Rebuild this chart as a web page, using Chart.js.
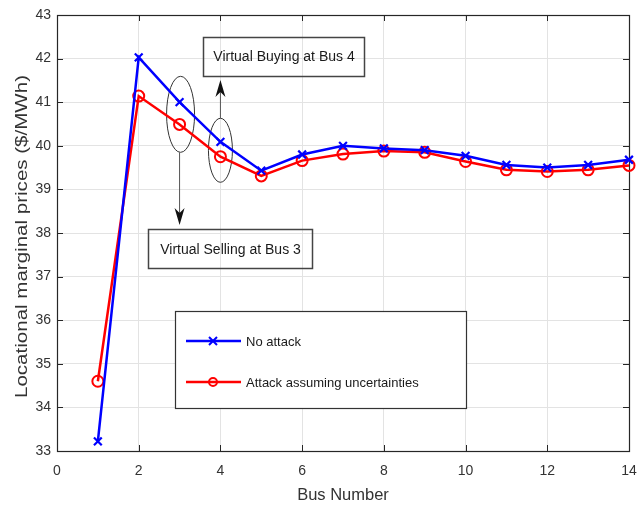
<!DOCTYPE html>
<html>
<head>
<meta charset="utf-8">
<script src="https://cdn.jsdelivr.net/npm/chart.js@4.4.1/dist/chart.umd.min.js"></script>
<style>
  html, body { margin: 0; padding: 0; background: #ffffff; }
  #wrap { width: 641px; height: 507px; }
</style>
</head>
<body>
<div id="wrap"><canvas id="lmp" width="641" height="507"></canvas></div>
<script>
// Bus numbers and locational marginal prices ($/MWh)
const busNumbers = [1, 2, 3, 4, 5, 6, 7, 8, 9, 10, 11, 12, 13, 14];
const noAttack = [33.22, 42.03, 41.00, 40.09, 39.43, 39.80, 40.00, 39.94, 39.90, 39.77, 39.56, 39.50, 39.56, 39.68];
const attackUncertain = [34.60, 41.14, 40.49, 39.75, 39.31, 39.66, 39.81, 39.88, 39.85, 39.64, 39.45, 39.41, 39.45, 39.55];
const xTicks = [0, 2, 4, 6, 8, 10, 12, 14];
const yTicks = [33, 34, 35, 36, 37, 38, 39, 40, 41, 42, 43];

const seriesLabels = ['No attack', 'Attack assuming uncertainties'];
const xTitle = 'Bus Number';
const yTitle = 'Locational marginal prices ($/MWh)';
const buyingNote = 'Virtual Buying at Bus 4';
const sellingNote = 'Virtual Selling at Bus 3';

const FONT = "'Liberation Sans', Arial, Helvetica, sans-serif";
const INK = '#262626';
const TEXT = '#333333';

const toPoints = (ys) => busNumbers.map((b, i) => ({ x: b, y: ys[i] }));

// Notched arrow head pointing from (x0,y0) to the tip (x1,y1)
function arrow(ctx, x0, y0, x1, y1) {
  const len = 17, half = 5, notch = 5;
  const dir = Math.sign(y1 - y0);
  ctx.strokeStyle = '#555555';
  ctx.lineWidth = 1;
  ctx.beginPath();
  ctx.moveTo(x0, y0);
  ctx.lineTo(x1, y1 - dir * 4);
  ctx.stroke();
  ctx.fillStyle = '#111111';
  ctx.beginPath();
  ctx.moveTo(x1, y1);
  ctx.lineTo(x1 - half, y1 - dir * len);
  ctx.lineTo(x1, y1 - dir * (len - notch));
  ctx.lineTo(x1 + half, y1 - dir * len);
  ctx.closePath();
  ctx.fill();
}

const frameAndNotes = {
  id: 'frameAndNotes',
  beforeDatasetsDraw(chart) {
    const { ctx, chartArea: a, scales: { x, y } } = chart;
    ctx.save();
    // inward tick marks on all four sides
    ctx.strokeStyle = INK;
    ctx.lineWidth = 1;
    ctx.beginPath();
    xTicks.forEach(v => {
      const px = Math.round(x.getPixelForValue(v)) + 0.5;
      ctx.moveTo(px, a.bottom); ctx.lineTo(px, a.bottom - 6);
      ctx.moveTo(px, a.top); ctx.lineTo(px, a.top + 6);
    });
    yTicks.forEach(v => {
      const py = Math.round(y.getPixelForValue(v)) + 0.5;
      ctx.moveTo(a.left, py); ctx.lineTo(a.left + 6, py);
      ctx.moveTo(a.right, py); ctx.lineTo(a.right - 6, py);
    });
    ctx.stroke();
    // axes box
    ctx.lineWidth = 1.2;
    ctx.strokeRect(Math.round(a.left) + 0.5, Math.round(a.top) + 0.5,
                   Math.round(a.right - a.left), Math.round(a.bottom - a.top));

    // ellipses round the bus 3 and bus 4 price pairs
    ctx.strokeStyle = '#333333';
    ctx.lineWidth = 1;
    const e3x = x.getPixelForValue(3);
    const e3y = (y.getPixelForValue(noAttack[2]) + y.getPixelForValue(attackUncertain[2])) / 2;
    const e4x = x.getPixelForValue(4);
    const e4y = (y.getPixelForValue(noAttack[3]) + y.getPixelForValue(attackUncertain[3])) / 2 + 1;
    ctx.beginPath(); ctx.ellipse(e3x + 1, e3y + 1, 14, 38, 0, 0, Math.PI * 2); ctx.stroke();
    ctx.beginPath(); ctx.ellipse(e4x, e4y, 12, 32, 0, 0, Math.PI * 2); ctx.stroke();

    // arrows to the note boxes
    arrow(ctx, e3x, e3y + 39, e3x, 225);
    arrow(ctx, e4x, e4y - 32, e4x, 80);

    // note boxes
    ctx.strokeStyle = '#444444';
    ctx.lineWidth = 1.5;
    ctx.strokeRect(203.5, 37.5, 161, 39);
    ctx.strokeRect(148.5, 229.5, 164, 39);
    ctx.fillStyle = '#1a1a1a';
    ctx.font = '14px ' + FONT;
    ctx.textAlign = 'center';
    ctx.textBaseline = 'middle';
    ctx.fillText(buyingNote, 284, 57.5);
    ctx.fillText(sellingNote, 230.5, 250);
    ctx.restore();
  },
  afterDatasetsDraw(chart) {
    const { ctx } = chart;
    ctx.save();
    // legend panel
    ctx.fillStyle = '#ffffff';
    ctx.fillRect(175.5, 311.5, 291, 97);
    ctx.strokeStyle = '#333333';
    ctx.lineWidth = 1.2;
    ctx.strokeRect(175.5, 311.5, 291, 97);
    const rows = [341, 382];
    chart.data.datasets.forEach((ds, i) => {
      const yy = rows[i];
      ctx.strokeStyle = ds.borderColor;
      ctx.lineWidth = 2.5;
      ctx.beginPath(); ctx.moveTo(186, yy); ctx.lineTo(241, yy); ctx.stroke();
      ctx.lineWidth = 2;
      ctx.beginPath();
      if (ds.pointStyle === 'crossRot') {
        ctx.moveTo(209, yy - 4); ctx.lineTo(217, yy + 4);
        ctx.moveTo(217, yy - 4); ctx.lineTo(209, yy + 4);
      } else {
        ctx.arc(213, yy, 4, 0, Math.PI * 2);
      }
      ctx.stroke();
      ctx.fillStyle = '#1a1a1a';
      ctx.font = '13px ' + FONT;
      ctx.textAlign = 'left';
      ctx.textBaseline = 'middle';
      ctx.fillText(ds.label, 246, yy + 1);
    });

    // y axis title, stretched along its length
    ctx.fillStyle = TEXT;
    ctx.font = '16px ' + FONT;
    const w = ctx.measureText(yTitle).width;
    ctx.translate(27, 236.5);
    ctx.rotate(-Math.PI / 2);
    ctx.scale(323 / w, 1);
    ctx.textAlign = 'center';
    ctx.textBaseline = 'alphabetic';
    ctx.fillText(yTitle, 0, 0);
    ctx.restore();
  }
};

new Chart(document.getElementById('lmp'), {
  type: 'line',
  data: {
    datasets: [
      {
        label: seriesLabels[0],
        data: toPoints(noAttack),
        borderColor: '#0000ff',
        backgroundColor: '#0000ff',
        borderWidth: 2.5,
        pointStyle: 'crossRot',
        pointRadius: 5.5,
        pointBorderWidth: 2.2,
        tension: 0,
        clip: false
      },
      {
        label: seriesLabels[1],
        data: toPoints(attackUncertain),
        borderColor: '#ff0000',
        backgroundColor: 'rgba(0,0,0,0)',
        borderWidth: 2.5,
        pointStyle: 'circle',
        pointRadius: 5.5,
        pointBorderWidth: 2,
        tension: 0,
        clip: false
      }
    ]
  },
  options: {
    responsive: false,
    animation: false,
    devicePixelRatio: 1,
    layout: { padding: { left: 0, top: 15, right: 12, bottom: 0 } },
    plugins: { legend: { display: false }, tooltip: { enabled: false } },
    scales: {
      x: {
        type: 'linear',
        min: 0, max: 14,
        afterBuildTicks: (s) => { s.ticks = xTicks.map(v => ({ value: v })); },
        afterFit: (s) => { s.height = 56; s.paddingRight = 0; },
        border: { display: false },
        grid: { color: '#e3e3e3', lineWidth: 1, drawTicks: false },
        ticks: { color: TEXT, font: { family: FONT, size: 14 }, padding: 12 },
        title: { display: true, text: xTitle, color: TEXT, font: { family: FONT, size: 16.5 }, padding: { top: 0, bottom: 2 } }
      },
      y: {
        type: 'linear',
        min: 33, max: 43,
        afterBuildTicks: (s) => { s.ticks = yTicks.map(v => ({ value: v })); },
        afterFit: (s) => { s.width = 57; },
        border: { display: false },
        grid: { color: '#e3e3e3', lineWidth: 1, drawTicks: false },
        ticks: { color: TEXT, font: { family: FONT, size: 14 }, padding: 6 }
      }
    }
  },
  plugins: [frameAndNotes]
});
</script>
</body>
</html>
